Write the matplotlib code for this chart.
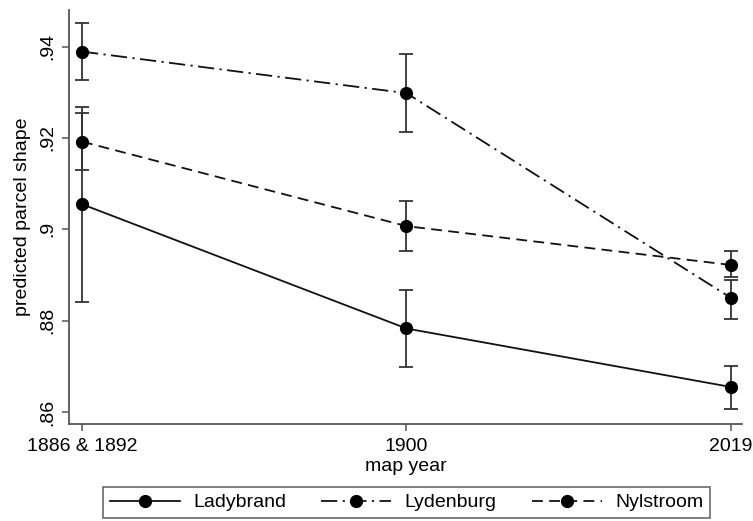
import numpy as np
import matplotlib
matplotlib.use('Agg')
import matplotlib.pyplot as plt

plt.rcParams['font.family'] = ['Liberation Sans', 'DejaVu Sans']

years = ['1886 & 1892', '1900', '2019']

# point estimates and confidence bounds
ladybrand = [0.9055, 0.8783, 0.8655]
ladybrand_lo = [0.8841, 0.8699, 0.8606]
ladybrand_hi = [0.9254, 0.8867, 0.8701]

lydenburg = [0.9389, 0.9298, 0.8850]
lydenburg_lo = [0.9327, 0.9212, 0.8804]
lydenburg_hi = [0.9452, 0.9383, 0.8889]

nylstroom = [0.9192, 0.9007, 0.8922]
nylstroom_lo = [0.9130, 0.8952, 0.8896]
nylstroom_hi = [0.9267, 0.9063, 0.8952]

yticks = [0.86, 0.88, 0.90, 0.92, 0.94]
ytick_labels = ['.86', '.88', '.9', '.92', '.94']

series = [
    ('Ladybrand', ladybrand, ladybrand_lo, ladybrand_hi, '-'),
    ('Lydenburg', lydenburg, lydenburg_lo, lydenburg_hi, (0, (9, 3, 1.2, 3))),
    ('Nylstroom', nylstroom, nylstroom_lo, nylstroom_hi, (0, (6, 3.5))),
]

fig = plt.figure(figsize=(7.53, 5.21), dpi=100)
ax = fig.add_axes([69 / 753, 1 - 424 / 521, (742 - 69) / 753, (424 - 10) / 521])

x = np.arange(len(years))
handles = []
for name, vals, lo, hi, ls in series:
    vals = np.array(vals)
    err = [vals - np.array(lo), np.array(hi) - vals]
    ax.errorbar(x, vals, yerr=err, fmt='none', ecolor='#333333',
                elinewidth=1.3, capsize=5, capthick=1.3, zorder=2)
    h, = ax.plot(x, vals, linestyle=ls, color='#111111', linewidth=1.3,
                 marker='o', markersize=8.5, markerfacecolor='black',
                 markeredgecolor='black', label=name, zorder=3)
    handles.append(h)

ax.set_xlim(-0.04, 2.034)
ax.set_ylim(0.8574, 0.948)
ax.set_xticks(x)
ax.set_xticklabels(years, fontsize=14)
ax.set_yticks(yticks)
ax.set_yticklabels(ytick_labels, fontsize=14, rotation=90, va='center')

for side in ['top', 'right']:
    ax.spines[side].set_visible(False)
for side in ['left', 'bottom']:
    ax.spines[side].set_color('#555555')
    ax.spines[side].set_linewidth(1.3)
ax.tick_params(axis='both', direction='out', length=5, width=1.1, color='#555555')
ax.tick_params(axis='y', pad=4)
ax.tick_params(axis='x', pad=5)

ax.set_ylabel('predicted parcel shape', fontsize=14, labelpad=6)
ax.set_xlabel('map year', fontsize=14, labelpad=2)

leg = fig.legend(handles=handles, loc='upper center', ncol=3,
                 bbox_to_anchor=(406.5 / 753, 1 - 487 / 521),
                 fontsize=14, frameon=True, fancybox=False,
                 handlelength=3.6, handletextpad=0.7, columnspacing=1.8,
                 borderpad=0.35, borderaxespad=0)
leg.get_frame().set_edgecolor('#444444')
leg.get_frame().set_linewidth(1.2)

fig.savefig('out.png', dpi=100)
